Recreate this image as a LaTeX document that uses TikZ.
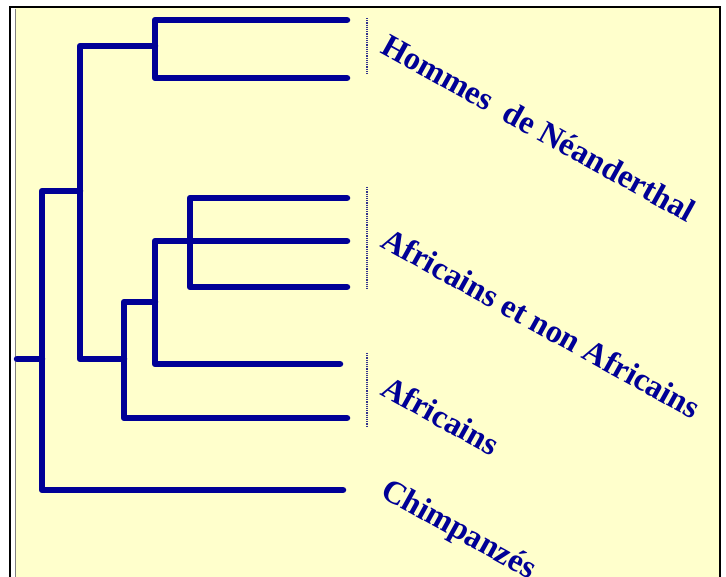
\documentclass[tikz,border=0pt]{standalone}
\usepackage{fontspec}
\setmainfont{Liberation Serif}
\definecolor{treeblue}{RGB}{0,0,150}
\definecolor{paper}{RGB}{255,255,204}

\begin{document}
\begin{tikzpicture}[
            x = 1pt, y = -1pt,
            branch/.style = {draw=treeblue, line width=6.5pt, line cap=round, line join=round},
            bar/.style = {draw=treeblue!60!gray, line width=1.2pt, densely dotted},
            taxon/.style = {anchor=base west, rotate=-29, inner sep=0pt, text=treeblue,
                            font=\fontsize{32.5}{38}\selectfont\bfseries}
        ]

            % Frame
            \useasboundingbox (0,0) rectangle (726,577);
            \fill[white] (0,0) rectangle (726,577);
            \fill[paper] (15,8) rectangle (719,577);
            \draw[line width=2pt] (10,577) -- (10,7) -- (720,7) -- (720,577);
            \draw[gray, line width=1pt] (15,577) -- (15,9);

            % Inner nodes
            \coordinate (root) at (17,359);
            \coordinate (n0) at (42,359);
            \coordinate (n1) at (80,191);
            \coordinate (n2) at (155,46);
            \coordinate (n3) at (124,359);
            \coordinate (n4) at (155,302);
            \coordinate (n5) at (190,241);

            % Leaves
            \coordinate (h1) at (347,20);
            \coordinate (h2) at (347,78);
            \coordinate (m1) at (347,198);
            \coordinate (m2) at (347,241);
            \coordinate (m3) at (347,287);
            \coordinate (a1) at (340,364);
            \coordinate (a2) at (347,418);
            \coordinate (ch) at (343,490);

            % Branches
            \draw[branch] (root) -- (n0);
            \draw[branch] (n0) |- (n1);
            \draw[branch] (n0) |- (ch);
            \draw[branch] (n1) |- (n2);
            \draw[branch] (n1) |- (n3);
            \draw[branch] (n2) |- (h1);
            \draw[branch] (n2) |- (h2);
            \draw[branch] (n3) |- (n4);
            \draw[branch] (n3) |- (a2);
            \draw[branch] (n4) |- (m2);
            \draw[branch] (n4) |- (a1);
            \draw[branch] (n5) |- (m1);
            \draw[branch] (n5) |- (m3);

            % Brackets
            \draw[bar] (367,18) -- (367,75);
            \draw[bar] (367,187) -- (367,290);
            \draw[bar] (367,353) -- (367,427);

            % Labels
            \node[taxon] (nean) at (379,52) {Hommes\ \ de Néanderthal};
            \node[taxon] (mix) at (379,246) {Africains et non Africains};
            \node[taxon] (afr) at (379,394) {Africains};
            \node[taxon] (chimp) at (379,496) {Chimpanzés};

        \end{tikzpicture}
\end{document}
